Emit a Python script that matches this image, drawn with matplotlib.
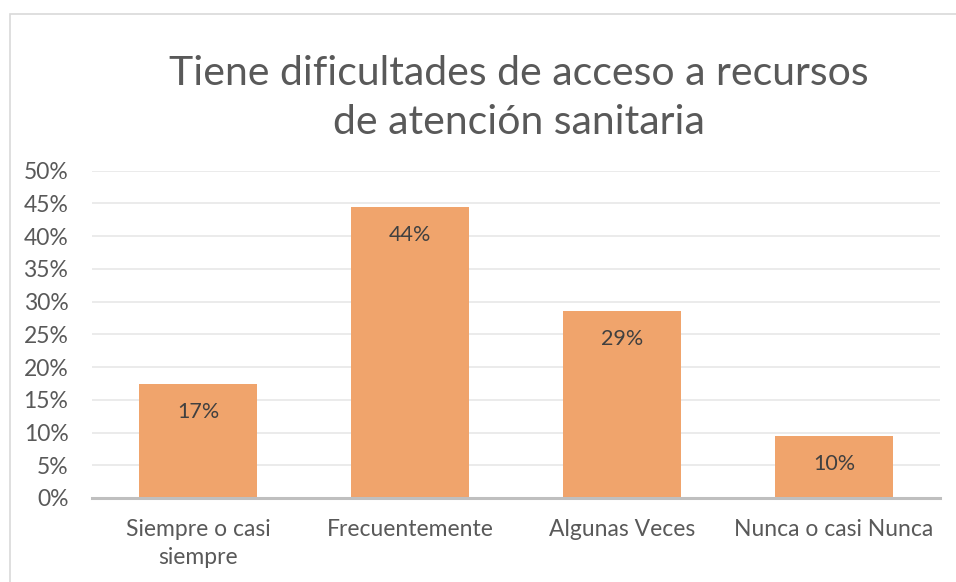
import matplotlib.pyplot as plt
from matplotlib.patches import Rectangle
from matplotlib.ticker import PercentFormatter

plt.rcParams['font.family'] = ['Lato', 'DejaVu Sans']

# data
categories = ['Siempre o casi\nsiempre', 'Frecuentemente', 'Algunas Veces', 'Nunca o casi Nunca']
values = [0.174, 0.445, 0.286, 0.095]
labels = ['17%', '44%', '29%', '10%']
title = 'Tiene dificultades de acceso a recursos\nde atención sanitaria'

fig = plt.figure(figsize=(9.56, 5.82), dpi=100)
# light frame of the chart area
fig.patches.append(Rectangle((9.5 / 956, -0.1), 1.2, (582 - 13.5) / 582 + 0.1,
                             transform=fig.transFigure, fill=False,
                             edgecolor='#D9D9D9', linewidth=1.2, zorder=0))

ax = fig.add_axes([92 / 956, 1 - 498 / 582, 848 / 956, (498 - 170.7) / 582])
x = range(len(categories))
bars = ax.bar(x, values, width=0.557, color='#F0A46C', zorder=2)

for b, lab in zip(bars, labels):
    ax.annotate(lab, (b.get_x() + b.get_width() / 2, b.get_height()),
                xytext=(0, -28), textcoords='offset pixels',
                ha='center', va='center', fontsize=15.5, color='#404040')

ax.set_ylim(0, 0.5)
ax.set_xlim(-0.5, 3.5)
ax.set_yticks([i * 0.05 for i in range(11)])
ax.yaxis.set_major_formatter(PercentFormatter(1.0, decimals=0))
ax.set_xticks(list(x))
ax.set_xticklabels(categories, fontsize=16.5, color='#595959', linespacing=1.4)
ax.tick_params(axis='y', labelsize=16.5, labelcolor='#595959', length=0, pad=17)
ax.tick_params(axis='x', length=0, pad=15)
ax.grid(axis='y', color='#E8E8E8', linewidth=1.2, zorder=0)
for s in ['top', 'right', 'left']:
    ax.spines[s].set_visible(False)
ax.spines['bottom'].set_color('#BFBFBF')
ax.spines['bottom'].set_linewidth(2.2)
ax.spines['bottom'].set_zorder(3)

fig.text(0.5 + 41 / 956, 1 - 98 / 582, title, ha='center', va='center',
         fontsize=29.5, color='#595959', linespacing=1.37)

fig.savefig('out.png', dpi=100)
